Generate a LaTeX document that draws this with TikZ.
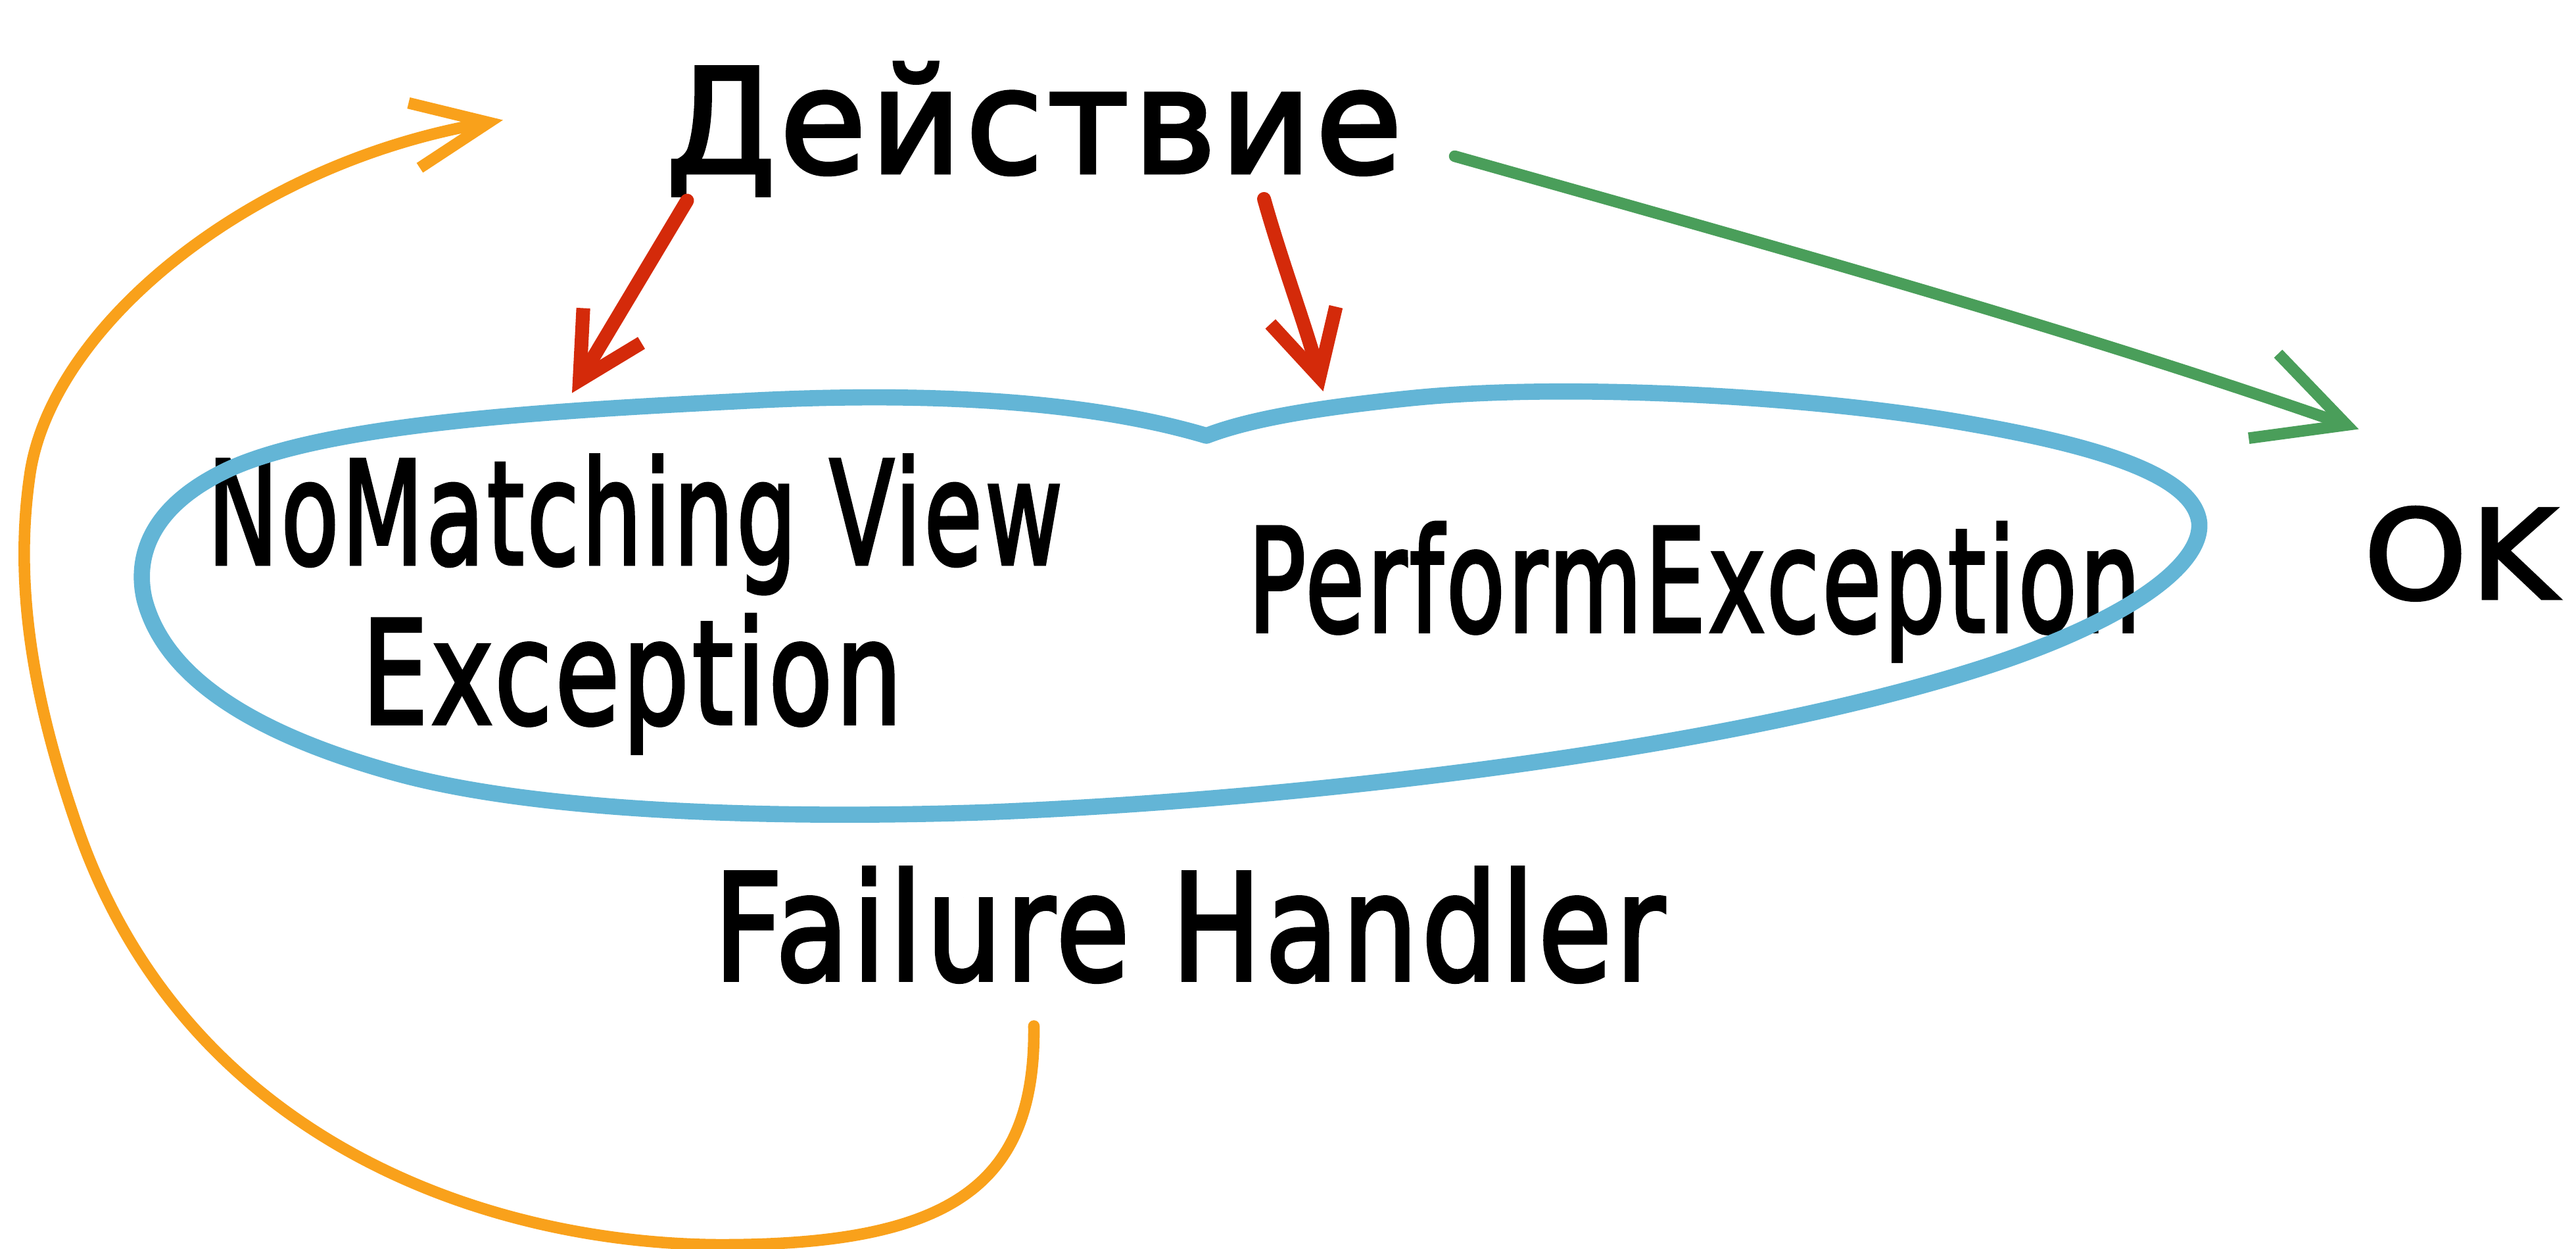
\documentclass[tikz,border=0pt]{standalone}
\usepackage{fontspec}
\usepackage{graphicx}
\setmainfont{DejaVu Sans}
\newfontfamily\handfont[FakeBold=2.6, LetterSpace=3]{DejaVu Sans}
\usetikzlibrary{arrows.meta}

\definecolor{penred}{HTML}{D42A0A}
\definecolor{pengreen}{HTML}{4A9E5A}
\definecolor{penblue}{HTML}{63B5D6}
\definecolor{penorange}{HTML}{F9A11B}

\tikzset{
  hand/.style={inner sep=0pt, anchor=base west, text=black},
  handmid/.style={hand, font=\handfont\fontsize{62}{68}\selectfont},
  redpen/.style={draw=penred, line width=6pt, line cap=round, line join=round,
    -{Straight Barb[length=0.97cm, width=1.03cm]}},
  greenpen/.style={draw=pengreen, line width=5pt, line cap=round, line join=round,
    -{Straight Barb[length=1.34cm, width=1.36cm]}},
  orangepen/.style={draw=penorange, line width=5pt, line cap=round, line join=round,
    -{Straight Barb[length=1.15cm, width=1.0cm]}},
  bluepen/.style={draw=penblue, line width=7pt, line cap=round, line join=round}
}

\begin{document}
\begin{tikzpicture}[x=0.025cm, y=-0.025cm]
  \path[use as bounding box] (0,0) rectangle (1567.2,759.6);

  % labels
  \node[hand, font=\handfont\fontsize{62.6}{70}\selectfont] (act) at (405,105) {\scalebox{0.97}[1]{Действие}};
  \node[handmid] (nmv1) at (126,343) {\scalebox{0.66}[1]{NoMatching View}};
  \node[handmid] (nmv2) at (220,440) {\scalebox{0.73}[1]{Exception}};
  \node[handmid] (perf) at (759,384) {\scalebox{0.67}[1]{PerformException}};
  \node[hand, font=\handfont\fontsize{53.3}{60}\selectfont] (ok) at (1438,364) {\scalebox{1.06}[1]{OK}};
  \node[hand, font=\handfont\fontsize{64}{70}\selectfont] (fh) at (434,596) {\scalebox{0.81}[1]{Failure Handler}};

  % arrow ends
  \coordinate (r1s) at (418,122);
  \coordinate (r1e) at (348,239);
  \coordinate (r2s) at (769,121);
  \coordinate (r2e) at (805,238);
  \coordinate (gs) at (885,95);
  \coordinate (ge) at (1435,261);
  \coordinate (os) at (629,624);
  \coordinate (oe) at (306,73);

  % the failure-handler group outline
  \draw[bluepen] (734,265)
    .. controls (660,243) and (560,238) .. (450,244)
    .. controls (330,250) and (200,258) .. (140,285)
    .. controls (90,308) and (82,340) .. (88,365)
    .. controls (100,410) and (150,445) .. (240,470)
    .. controls (330,495) and (480,498) .. (600,494)
    .. controls (800,486) and (1050,455) .. (1200,408)
    .. controls (1290,380) and (1340,345) .. (1338,318)
    .. controls (1335,290) and (1280,272) .. (1200,258)
    .. controls (1100,240) and (950,233) .. (860,242)
    .. controls (800,248) and (760,255) .. (734,265);

  % outcomes of the action
  \draw[redpen] (r1s) -- (r1e);
  \draw[redpen] (r2s) .. controls (780,160) and (795,200) .. (r2e);
  \draw[greenpen] (gs) .. controls (1080,150) and (1260,200) .. (ge);

  % retry loop from the handler back to the action
  \draw[orangepen] (os) .. controls (630,720) and (580,758) .. (434,757)
    .. controls (290,755) and (110,690) .. (46,500)
    .. controls (22,430) and (8,360) .. (18,290)
    .. controls (30,200) and (150,100) .. (oe);
\end{tikzpicture}
\end{document}
